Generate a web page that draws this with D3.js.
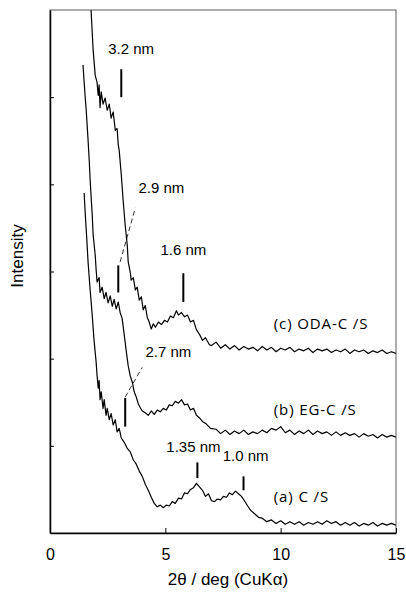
<!DOCTYPE html>
<html>
<head>
<meta charset="utf-8">
<script src="https://cdn.jsdelivr.net/npm/d3@7"></script>
<style>
  body { margin: 0; background: #fff; }
  svg { display: block; }
</style>
</head>
<body>
<div class="chart"></div>
<script>
// XRD patterns (2theta in deg, intensity in arbitrary units)
const xTicks = [0, 5, 10, 15];
const yTicks = [1, 2, 3, 4, 5];

const cX = [1.70,1.78,1.87,1.96,2.04,2.09,2.13,2.17,2.22,2.30,2.39,2.48,2.57,2.65,2.74,2.83,2.91,2.96,3.00,3.09,3.17,3.26,3.35,3.39,3.48,3.52,3.61,3.70,3.78,3.87,3.96,4.04,4.13,4.22,4.30,4.39,4.48,4.57,4.70,4.83,4.96,5.09,5.22,5.35,5.48,5.57,5.70,5.83,5.96,6.09,6.22,6.35,6.48,6.61,6.74,6.91,7.0,7.2,7.4,7.6,7.8,8.0,8.2,8.4,8.6,8.8,9.0,9.2,9.4,9.6,9.8,10.0,10.2,10.4,10.6,10.8,11.0,11.2,11.4,11.6,11.8,12.0,12.2,12.4,12.6,12.8,13.0,13.2,13.4,13.6,13.8,14.0,14.2,14.4,14.6,14.8,15.0];
const cY = [6.17,6.00,5.54,5.25,5.17,5.02,5.14,4.88,5.06,4.92,4.99,4.85,4.92,4.76,4.83,4.62,4.64,4.45,4.39,4.11,3.82,3.53,3.30,3.11,2.99,2.90,2.93,2.79,2.82,2.67,2.71,2.56,2.61,2.47,2.42,2.34,2.40,2.36,2.42,2.39,2.44,2.42,2.49,2.47,2.55,2.50,2.53,2.48,2.50,2.42,2.44,2.33,2.28,2.21,2.24,2.16,2.15,2.19,2.12,2.16,2.11,2.15,2.10,2.14,2.11,2.13,2.09,2.14,2.10,2.13,2.08,2.12,2.10,2.13,2.08,2.11,2.09,2.12,2.07,2.11,2.09,2.11,2.07,2.10,2.08,2.11,2.06,2.10,2.08,2.10,2.06,2.09,2.07,2.10,2.06,2.08,2.06];

const bX = [1.43,1.52,1.57,1.65,1.70,1.74,1.83,1.87,1.96,2.00,2.04,2.13,2.17,2.26,2.35,2.43,2.52,2.61,2.70,2.78,2.87,2.96,3.04,3.13,3.22,3.30,3.39,3.48,3.57,3.65,3.74,3.83,3.91,4.00,4.13,4.26,4.39,4.52,4.65,4.78,4.91,5.04,5.17,5.30,5.43,5.57,5.70,5.83,5.96,6.09,6.22,6.35,6.48,6.61,6.78,6.96,7.2,7.4,7.6,7.8,8.0,8.2,8.4,8.6,8.8,9.0,9.2,9.4,9.6,9.8,10.0,10.2,10.4,10.6,10.8,11.0,11.2,11.4,11.6,11.8,12.0,12.2,12.4,12.6,12.8,13.0,13.2,13.4,13.6,13.8,14.0,14.2,14.4,14.6,14.8,15.0];
const bY = [5.37,5.02,4.85,4.51,4.28,4.05,3.65,3.42,3.19,3.02,2.88,2.93,2.76,2.82,2.69,2.76,2.64,2.72,2.60,2.68,2.57,2.65,2.53,2.46,2.27,2.10,1.92,1.80,1.73,1.62,1.56,1.48,1.44,1.40,1.38,1.35,1.40,1.36,1.41,1.39,1.43,1.41,1.47,1.46,1.51,1.49,1.53,1.47,1.48,1.41,1.43,1.35,1.32,1.28,1.25,1.20,1.19,1.14,1.18,1.13,1.17,1.14,1.18,1.13,1.16,1.14,1.18,1.15,1.20,1.18,1.22,1.15,1.18,1.13,1.17,1.14,1.18,1.13,1.17,1.14,1.16,1.12,1.16,1.12,1.15,1.12,1.14,1.10,1.14,1.11,1.13,1.09,1.13,1.10,1.12,1.10];

const aX = [1.48,1.52,1.57,1.61,1.65,1.74,1.83,1.91,2.00,2.04,2.09,2.13,2.17,2.22,2.30,2.35,2.43,2.48,2.57,2.65,2.74,2.83,2.91,3.00,3.09,3.22,3.35,3.48,3.61,3.74,3.87,4.00,4.13,4.26,4.39,4.52,4.65,4.78,4.91,5.04,5.17,5.30,5.43,5.57,5.70,5.83,5.96,6.09,6.22,6.35,6.48,6.61,6.74,6.87,7.00,7.13,7.26,7.39,7.52,7.65,7.78,7.91,8.04,8.17,8.30,8.43,8.57,8.70,8.87,9.04,9.2,9.4,9.6,9.8,10.0,10.2,10.4,10.6,10.8,11.0,11.2,11.4,11.6,11.8,12.0,12.2,12.4,12.6,12.8,13.0,13.2,13.4,13.6,13.8,14.0,14.2,14.4,14.6,14.8,15.0];
const aY = [3.90,3.70,3.48,3.30,3.11,2.79,2.50,2.21,1.96,1.81,1.66,1.75,1.53,1.62,1.43,1.53,1.35,1.43,1.30,1.37,1.24,1.30,1.16,1.20,1.09,1.04,0.97,0.93,0.84,0.79,0.71,0.65,0.56,0.49,0.41,0.34,0.30,0.32,0.29,0.32,0.31,0.36,0.34,0.40,0.39,0.46,0.45,0.50,0.52,0.57,0.53,0.49,0.42,0.45,0.37,0.36,0.39,0.38,0.42,0.41,0.46,0.44,0.48,0.45,0.42,0.37,0.31,0.26,0.22,0.18,0.17,0.13,0.15,0.11,0.14,0.10,0.13,0.10,0.13,0.09,0.12,0.10,0.13,0.10,0.14,0.11,0.13,0.09,0.12,0.09,0.12,0.08,0.11,0.09,0.12,0.08,0.11,0.09,0.11,0.09];

// peak markers: d-spacing label, x, marker bottom/top, label position
const peakLabels = ['3.2 nm', '2.9 nm', '1.6 nm', '2.7 nm', '1.35 nm', '1.0 nm'];
const peakX = [3.09, 2.96, 5.78, 3.26, 6.39, 8.39];
const peakLo = [5.00, 2.76, 2.65, 1.22, 0.63, 0.49];
const peakHi = [5.32, 3.07, 2.98, 1.55, 0.81, 0.65];
const labelX = [3.52, 4.83, 5.78, 5.13, 6.22, 8.48];
const labelY = [5.49, 3.90, 3.19, 2.02, 0.93, 0.83];

// tangent (dashed) lines
const dashX0 = [3.04, 3.26];
const dashY0 = [3.11, 1.56];
const dashX1 = [3.70, 4.00];
const dashY1 = [3.73, 1.90];

const seriesNames = ['(c) ODA-C /S', '(b) EG-C /S', '(a) C /S'];
const seriesLabelX = [9.70, 9.70, 9.70];
const seriesLabelY = [2.34, 1.35, 0.36];

const w = 406, h = 596;
const m = {left: 50, right: 10, top: 10, bottom: 63};

const xScale = d3.scaleLinear().domain([0, 15]).range([m.left, w - m.right]);
const yScale = d3.scaleLinear().domain([0, 6]).range([h - m.bottom, m.top]);

const svg = d3.select('div.chart')
              .append('svg')
              .attr('width', w)
              .attr('height', h);

svg.append('clipPath')
   .attr('id', 'clip')
   .append('rect')
   .attr('x', m.left)
   .attr('y', m.top)
   .attr('width', w - m.left - m.right)
   .attr('height', h - m.top - m.bottom);

const line = d3.line().x(d => xScale(d[0])).y(d => yScale(d[1]));
const curves = [d3.zip(cX, cY), d3.zip(bX, bY), d3.zip(aX, aY)];

svg.append('g')
   .attr('clip-path', 'url(#clip)')
   .selectAll('path')
   .data(curves)
   .enter()
   .append('path')
   .attr('d', line)
   .attr('fill', 'none')
   .attr('stroke', '#000')
   .attr('stroke-width', 1.2)
   .attr('stroke-linejoin', 'round');

// frame
svg.append('rect')
   .attr('x', m.left)
   .attr('y', m.top)
   .attr('width', w - m.left - m.right)
   .attr('height', h - m.top - m.bottom)
   .attr('fill', 'none')
   .attr('stroke', '#333')
   .attr('stroke-width', 0.8);

const xAxis = d3.axisBottom(xScale).tickValues(xTicks).tickSizeInner(-5).tickSizeOuter(0).tickPadding(16);
svg.append('g')
   .attr('class', 'x-axis')
   .attr('transform', 'translate(0,' + (h - m.bottom) + ')')
   .call(xAxis);

const yAxis = d3.axisLeft(yScale).tickValues(yTicks).tickSizeInner(-4).tickSizeOuter(0).tickFormat('');
svg.append('g')
   .attr('class', 'y-axis')
   .attr('transform', 'translate(' + m.left + ',0)')
   .call(yAxis);

svg.selectAll('.x-axis path, .y-axis path')
   .attr('stroke', '#000')
   .attr('stroke-width', 1.5);
svg.selectAll('.tick line').attr('stroke', '#000').attr('stroke-width', 1);
svg.selectAll('.x-axis text')
   .attr('font-family', 'Liberation Sans, Arial, sans-serif')
   .attr('font-size', 16)
   .attr('fill', '#000');

// peak markers
svg.selectAll('line.peak')
   .data(peakX)
   .enter()
   .append('line')
   .attr('class', 'peak')
   .attr('x1', d => xScale(d))
   .attr('x2', d => xScale(d))
   .attr('y1', (d, i) => yScale(peakLo[i]))
   .attr('y2', (d, i) => yScale(peakHi[i]))
   .attr('stroke', '#000')
   .attr('stroke-width', 2);

svg.selectAll('text.peak')
   .data(peakLabels)
   .enter()
   .append('text')
   .attr('class', 'peak')
   .text(d => d)
   .attr('x', (d, i) => xScale(labelX[i]))
   .attr('y', (d, i) => yScale(labelY[i]))
   .attr('text-anchor', 'middle')
   .attr('font-family', 'Liberation Sans, Arial, sans-serif')
   .attr('font-size', 15);

svg.selectAll('line.dash')
   .data(dashX0)
   .enter()
   .append('line')
   .attr('class', 'dash')
   .attr('x1', d => xScale(d))
   .attr('y1', (d, i) => yScale(dashY0[i]))
   .attr('x2', (d, i) => xScale(dashX1[i]))
   .attr('y2', (d, i) => yScale(dashY1[i]))
   .attr('stroke', '#000')
   .attr('stroke-width', 0.8)
   .attr('stroke-dasharray', '5,3');

svg.selectAll('text.series')
   .data(seriesNames)
   .enter()
   .append('text')
   .attr('class', 'series')
   .text(d => d)
   .attr('x', (d, i) => xScale(seriesLabelX[i]))
   .attr('y', (d, i) => yScale(seriesLabelY[i]))
   .attr('font-family', 'Open Sans, Noto Sans, sans-serif')
   .attr('font-size', 15)
   .attr('letter-spacing', 0.9);

svg.append('text')
   .text('2\u03b8 / deg (CuK\u03b1)')
   .attr('x', (xScale(0) + xScale(15)) / 2 + 5)
   .attr('y', 585)
   .attr('text-anchor', 'middle')
   .attr('font-family', 'Liberation Sans, Arial, sans-serif')
   .attr('font-size', 17);

svg.append('text')
   .text('Intensity')
   .attr('transform', 'translate(23,' + 256 + ') rotate(-90)')
   .attr('text-anchor', 'middle')
   .attr('font-family', 'Liberation Sans, Arial, sans-serif')
   .attr('font-size', 17);
</script>
</body>
</html>
